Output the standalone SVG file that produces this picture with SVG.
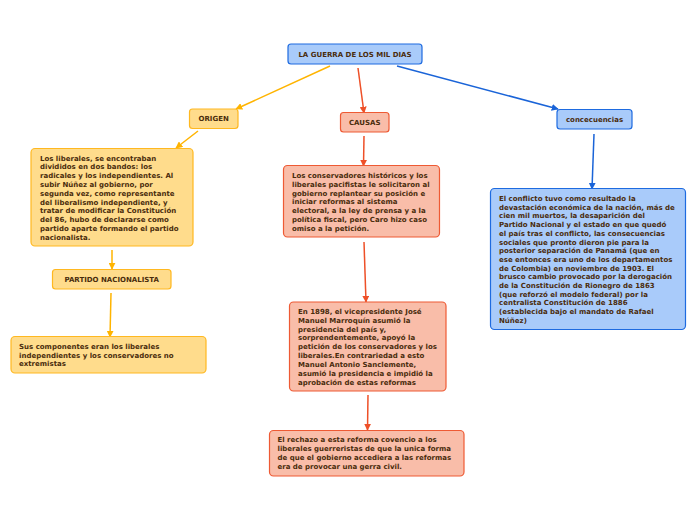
<svg xmlns="http://www.w3.org/2000/svg" width="696" height="520" viewBox="0 0 696 520">
<defs>
<style>
.t{font-family:"DejaVu Sans",Verdana,sans-serif;font-weight:bold;font-size:7px;fill:#4a2c0c}
.h{text-anchor:middle}
.o{fill:#ffdc8c;stroke:#ffb820;stroke-width:1.2}
.r{fill:#f9bda9;stroke:#ee5a34;stroke-width:1.2}
.b{fill:#a9cbfa;stroke:#1e6be0;stroke-width:1.2}
.lo{stroke:#ffb400;stroke-width:1.5;fill:none;marker-end:url(#ao)}
.lr{stroke:#ee5028;stroke-width:1.5;fill:none;marker-end:url(#ar)}
.lb{stroke:#1a64d8;stroke-width:1.5;fill:none;marker-end:url(#ab)}
</style>
<marker id="ao" viewBox="0 0 10 10" refX="9" refY="5" markerWidth="7" markerHeight="7" markerUnits="userSpaceOnUse" orient="auto"><path d="M0,0L10,5L0,10z" fill="#ffb400"/></marker>
<marker id="ar" viewBox="0 0 10 10" refX="9" refY="5" markerWidth="7" markerHeight="7" markerUnits="userSpaceOnUse" orient="auto"><path d="M0,0L10,5L0,10z" fill="#ee5028"/></marker>
<marker id="ab" viewBox="0 0 10 10" refX="9" refY="5" markerWidth="7" markerHeight="7" markerUnits="userSpaceOnUse" orient="auto"><path d="M0,0L10,5L0,10z" fill="#1a64d8"/></marker>
</defs>
<rect width="696" height="520" fill="#ffffff"/>
<g id="connectors">
<line class="lo" x1="330" y1="66" x2="236" y2="109"/>
<line class="lo" x1="198" y1="131" x2="176" y2="148"/>
<line class="lo" x1="112" y1="250" x2="112" y2="269"/>
<line class="lo" x1="111" y1="293" x2="110" y2="337"/>
<line class="lr" x1="358" y1="68" x2="364" y2="113"/>
<line class="lr" x1="364" y1="136" x2="363.5" y2="166"/>
<line class="lr" x1="364" y1="242" x2="366" y2="302"/>
<line class="lr" x1="368" y1="395" x2="367.5" y2="430"/>
<line class="lb" x1="397" y1="66" x2="558" y2="109"/>
<line class="lb" x1="594" y1="134" x2="592" y2="189"/>
</g>
<g id="root">
<rect class="b" x="288" y="44" width="134" height="20" rx="3"/>
<text class="t h" x="355" y="56.5">LA GUERRA DE LOS MIL DIAS</text>
</g>
<g id="origen">
<rect class="o" x="189.5" y="109" width="48.5" height="19.5" rx="3"/>
<text class="t h" x="213.7" y="121">ORIGEN</text>
</g>
<g id="causas">
<rect class="r" x="340.5" y="112.5" width="48.5" height="19.5" rx="3"/>
<text class="t h" x="364.7" y="124.5">CAUSAS</text>
</g>
<g id="concecuencias">
<rect class="b" x="557" y="109.5" width="75" height="19.5" rx="3"/>
<text class="t h" x="594.5" y="121.5">concecuencias</text>
</g>
<g id="origen-texto">
<rect class="o" x="31" y="148.5" width="162" height="97.5" rx="4"/>
<text class="t" x="40" y="160.5">
<tspan x="40" dy="0">Los liberales, se encontraban</tspan>
<tspan x="40" dy="8.8">divididos en dos bandos: los</tspan>
<tspan x="40" dy="8.8">radicales y los independientes. Al</tspan>
<tspan x="40" dy="8.8">subir Núñez al gobierno, por</tspan>
<tspan x="40" dy="8.8">segunda vez, como representante</tspan>
<tspan x="40" dy="8.8">del liberalismo independiente, y</tspan>
<tspan x="40" dy="8.8">tratar de modificar la Constitución</tspan>
<tspan x="40" dy="8.8">del 86, hubo de declararse como</tspan>
<tspan x="40" dy="8.8">partido aparte formando el partido</tspan>
<tspan x="40" dy="8.8">nacionalista.</tspan>
</text>
</g>
<g id="partido">
<rect class="o" x="52.5" y="269.5" width="118.5" height="19.5" rx="3"/>
<text class="t h" x="111.7" y="281.5">PARTIDO NACIONALISTA</text>
</g>
<g id="componentes">
<rect class="o" x="11" y="336.5" width="195" height="36.5" rx="4"/>
<text class="t" x="19" y="349">
<tspan x="19" dy="0">Sus componentes eran los liberales</tspan>
<tspan x="19" dy="8.7">independientes y los conservadores no</tspan>
<tspan x="19" dy="8.7">extremistas</tspan>
</text>
</g>
<g id="causa1">
<rect class="r" x="283.5" y="165.5" width="156" height="71.5" rx="4"/>
<text class="t" x="292" y="178">
<tspan x="292" dy="0">Los conservadores históricos y los</tspan>
<tspan x="292" dy="8.77">liberales pacifistas le solicitaron al</tspan>
<tspan x="292" dy="8.77">gobierno replantear su posición e</tspan>
<tspan x="292" dy="8.77">iniciar reformas al sistema</tspan>
<tspan x="292" dy="8.77">electoral, a la ley de prensa y a la</tspan>
<tspan x="292" dy="8.77">política fiscal, pero Caro hizo caso</tspan>
<tspan x="292" dy="8.77">omiso a la petición.</tspan>
</text>
</g>
<g id="causa2">
<rect class="r" x="289.5" y="302" width="156.5" height="89" rx="4"/>
<text class="t" x="298" y="314">
<tspan x="298" dy="0">En 1898, el vicepresidente José</tspan>
<tspan x="298" dy="8.83">Manuel Marroquín asumió la</tspan>
<tspan x="298" dy="8.83">presidencia del país y,</tspan>
<tspan x="298" dy="8.83">sorprendentemente, apoyó la</tspan>
<tspan x="298" dy="8.83">petición de los conservadores y los</tspan>
<tspan x="298" dy="8.83">liberales.En contrariedad a esto</tspan>
<tspan x="298" dy="8.83">Manuel Antonio Sanclemente,</tspan>
<tspan x="298" dy="8.83">asumió la presidencia e impidió la</tspan>
<tspan x="298" dy="8.83">aprobación de estas reformas</tspan>
</text>
</g>
<g id="causa3">
<rect class="r" x="269.5" y="430.5" width="194.5" height="45.5" rx="4"/>
<text class="t" x="277.5" y="442">
<tspan x="277.5" dy="0">El rechazo a esta reforma covencio a los</tspan>
<tspan x="277.5" dy="8.9">liberales guerreristas de que la unica forma</tspan>
<tspan x="277.5" dy="8.9">de que el gobierno accediera a las reformas</tspan>
<tspan x="277.5" dy="8.9">era de provocar una gerra civil.</tspan>
</text>
</g>
<g id="consecuencias-texto">
<rect class="b" x="490.5" y="188.5" width="195" height="141" rx="4"/>
<text class="t" x="499" y="201">
<tspan x="499" dy="0">El conflicto tuvo como resultado la</tspan>
<tspan x="499" dy="8.7">devastación económica de la nación, más de</tspan>
<tspan x="499" dy="8.7">cien mil muertos, la desaparición del</tspan>
<tspan x="499" dy="8.7">Partido Nacional y el estado en que quedó</tspan>
<tspan x="499" dy="8.7">el país tras el conflicto, las consecuencias</tspan>
<tspan x="499" dy="8.7">sociales que pronto dieron pie para la</tspan>
<tspan x="499" dy="8.7">posterior separación de Panamá (que en</tspan>
<tspan x="499" dy="8.7">ese entonces era uno de los departamentos</tspan>
<tspan x="499" dy="8.7">de Colombia) en noviembre de 1903. El</tspan>
<tspan x="499" dy="8.7">brusco cambio provocado por la derogación</tspan>
<tspan x="499" dy="8.7">de la Constitución de Rionegro de 1863</tspan>
<tspan x="499" dy="8.7">(que reforzó el modelo federal) por la</tspan>
<tspan x="499" dy="8.7">centralista Constitución de 1886</tspan>
<tspan x="499" dy="8.7">(establecida bajo el mandato de Rafael</tspan>
<tspan x="499" dy="8.7">Núñez)</tspan>
</text>
</g>
</svg>
